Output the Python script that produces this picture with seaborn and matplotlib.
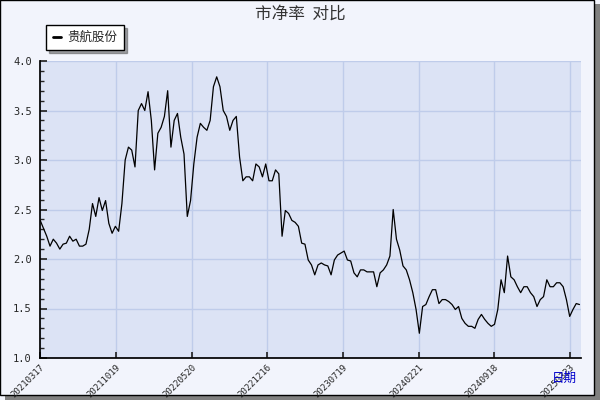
import matplotlib
matplotlib.use("Agg")
import matplotlib.pyplot as plt
import seaborn as sns
import pandas as pd
import numpy as np
from matplotlib.patches import Rectangle

tick_labels = ["20210317", "20211019", "20220520", "20221216", "20230719", "20240221", "20240918", "20250323"]
series_name = "贵航股份"
pb_values = [
    2.39, 2.31, 2.23, 2.13, 2.20, 2.16, 2.10, 2.15, 2.16, 2.23, 2.18, 2.20, 2.13, 2.13, 2.15, 2.30,
    2.56, 2.43, 2.62, 2.49, 2.59, 2.36, 2.26, 2.33, 2.28, 2.56, 3.00, 3.13, 3.10, 2.93, 3.50, 3.57,
    3.50, 3.69, 3.40, 2.90, 3.27, 3.33, 3.44, 3.70, 3.13, 3.40, 3.47, 3.23, 3.06, 2.43, 2.59, 2.96,
    3.23, 3.37, 3.33, 3.30, 3.40, 3.74, 3.84, 3.74, 3.50, 3.44, 3.30, 3.40, 3.44, 3.03, 2.79, 2.83,
    2.83, 2.79, 2.96, 2.93, 2.83, 2.96, 2.79, 2.79, 2.90, 2.86, 2.23, 2.49, 2.46, 2.39, 2.37, 2.33,
    2.16, 2.15,
    1.99, 1.94, 1.84, 1.94, 1.96, 1.94, 1.93, 1.84, 1.99, 2.04, 2.06, 2.08, 1.99, 1.98, 1.86, 1.82,
    1.89, 1.89, 1.87, 1.87, 1.87, 1.72, 1.86, 1.89, 1.94, 2.03, 2.50, 2.20, 2.09, 1.93, 1.89, 1.79,
    1.66, 1.49, 1.25, 1.52, 1.54, 1.62, 1.69, 1.69, 1.55, 1.59, 1.59, 1.57, 1.54, 1.49, 1.52, 1.40,
    1.35, 1.32, 1.32, 1.30, 1.39, 1.44, 1.39, 1.35, 1.32, 1.34, 1.49, 1.79, 1.66, 2.03, 1.82, 1.79,
    1.72, 1.66, 1.72, 1.72, 1.66, 1.62, 1.52, 1.59, 1.62, 1.79, 1.72, 1.72, 1.76, 1.76, 1.72, 1.59,
    1.42, 1.49, 1.55, 1.54,
]

df = pd.DataFrame({"idx": np.arange(len(pb_values)), "pb": pb_values})

sns.set_theme(style="white")
plt.rcParams['font.family'] = ['Noto Sans CJK SC', 'DejaVu Sans']

fig = plt.figure(figsize=(6, 4), dpi=100, facecolor="#F2F4FC")
fig.patches.append(Rectangle((0.008, 0.0), 0.992, 0.99, transform=fig.transFigure, facecolor="#808080", edgecolor="none", zorder=-2))
fig.patches.append(Rectangle((0.0, 0.012), 0.99, 0.988, transform=fig.transFigure, facecolor="#F2F4FC", edgecolor="black", lw=1, zorder=-1))

ax = fig.add_axes([0.067, 0.105, 0.901, 0.7425])
ax.set_facecolor("#DCE3F5")
sns.lineplot(data=df, x="idx", y="pb", ax=ax, color="black", lw=0.9, legend=False)

n = len(pb_values)
step = 23.15
ax.set_xlim(0, n - 0.6)
ax.set_ylim(1.0, 4.0)
ax.set_xticks([i * step for i in range(len(tick_labels))])
ax.set_xticklabels(tick_labels, rotation=45, ha="right", rotation_mode="anchor", fontsize=6.5, family="DejaVu Sans Mono")
ax.set_yticks(np.arange(1.0, 4.01, 0.5))
ax.set_yticklabels([f"{v:.1f}" for v in np.arange(1.0, 4.01, 0.5)], fontsize=7.5, family="DejaVu Sans Mono")
ax.set_yticks(np.arange(1.0, 4.01, 0.1), minor=True)
ax.tick_params(axis="y", which="major", length=5, direction="in", left=True, pad=6)
ax.tick_params(axis="y", which="minor", length=3, direction="in", left=True)
ax.tick_params(axis="x", which="major", length=4, direction="in", bottom=True, pad=3)
ax.grid(True, color="#BFCCEA", lw=1)
for s in ["top", "right"]:
    ax.spines[s].set_visible(False)
ax.spines["left"].set_color("black")
ax.spines["bottom"].set_color("black")
ax.set_xlabel("")
ax.set_ylabel("")

fig.text(0.5, 0.965, "市净率  对比", ha="center", va="center", fontsize=12, color="#333333")
fig.text(0.962, 0.055, "日期", ha="right", va="center", fontsize=9, color="#0000CC")

leg = ax.legend(handles=[plt.Line2D([], [], color="black", lw=2)], labels=[series_name],
                loc="lower left", bbox_to_anchor=(0.0, 1.015), fontsize=9, frameon=True,
                fancybox=False, handlelength=0.7, handletextpad=0.5, borderpad=0.5, shadow=True)
leg.get_frame().set_edgecolor("black")
leg.get_frame().set_facecolor("white")

fig.savefig("out.png", dpi=100, facecolor=fig.get_facecolor())
